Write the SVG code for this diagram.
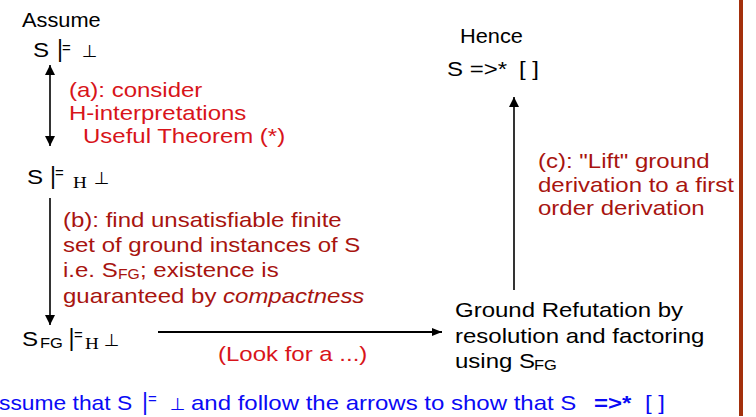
<svg xmlns="http://www.w3.org/2000/svg" width="756" height="417" viewBox="0 0 756 417">
<style>
text{font-family:"Liberation Sans",Arial,sans-serif;font-size:20px;fill:#000}
.big{font-size:21px}
.sym{font-family:"DejaVu Sans",sans-serif;font-size:17px}
.bar{font-size:23px}
.eq{font-size:15px}
.sub{font-size:15px}
.hs{font-family:"Liberation Serif","Times New Roman",serif;font-size:16px}
.ra text{fill:#D8141A}
.rb text{fill:#A8140F}
.bl text{fill:#0A0AF5}
.conn line{stroke:#000;fill:none}
</style>
<defs>
<marker id="ah" viewBox="0 0 10 10" refX="10" refY="5" markerWidth="10" markerHeight="10" markerUnits="userSpaceOnUse" orient="auto-start-reverse">
<path d="M0,0 L10,5 L0,10 z" fill="#000"/>
</marker>
<marker id="ahh" viewBox="0 0 10 8" refX="10" refY="4" markerWidth="10" markerHeight="8" markerUnits="userSpaceOnUse" orient="auto">
<path d="M0,0 L10,4 L0,8 z" fill="#000"/>
</marker>
</defs>
<rect x="739" y="0" width="4" height="416" fill="#A3300C"/>
<g id="assume">
<text font-size="22" transform="matrix(1.09,0,0,1,22,27)">Assume</text>
<text class="big" transform="matrix(1.15,0,0,1,33,57)">S</text>
<text class="bar" transform="matrix(1,0,0,1,57,57)">|</text>
<text class="eq" transform="matrix(1,0,0,1,62,53)">=</text>
<text class="sym" transform="matrix(1.05,0,0,1,82,57)">⊥</text>
</g>
<g id="sh">
<text class="big" transform="matrix(1.15,0,0,1,27,184)">S</text>
<text class="bar" transform="matrix(1,0,0,1,50,184)">|</text>
<text class="eq" transform="matrix(1,0,0,1,55,178)">=</text>
<text class="hs" transform="matrix(1.2,0,0,1,73,188)">H</text>
<text class="sym" transform="matrix(1.05,0,0,1,94,184)">⊥</text>
</g>
<g id="sfg">
<text class="big" transform="matrix(1.15,0,0,1,22,346)">S</text>
<text class="sub" transform="matrix(1.1,0,0,1,40,348)">FG</text>
<text class="bar" transform="matrix(1,0,0,1,68.5,346)">|</text>
<text class="eq" transform="matrix(1,0,0,1,74,340)">=</text>
<text class="hs" transform="matrix(1.2,0,0,1,85,349)">H</text>
<text class="sym" transform="matrix(1.05,0,0,1,104,346)">⊥</text>
</g>
<g id="hence">
<text font-size="22" transform="matrix(1.09,0,0,1,460,43)">Hence</text>
<text transform="matrix(1.2,0,0,1,447,76)">S =&gt;*</text>
<text transform="matrix(1.2,0,0,1,519,76)">[ ]</text>
</g>
<g id="ground">
<text transform="matrix(1.2,0,0,1,455,317)">Ground Refutation by</text>
<text transform="matrix(1.2,0,0,1,455,343)">resolution and factoring</text>
<text transform="matrix(1.2,0,0,1,455,368)">using S</text>
<text class="sub" transform="matrix(1.1,0,0,1,534,370)">FG</text>
</g>
<g id="label-a" class="ra">
<text transform="matrix(1.2,0,0,1,69,97)">(a): consider</text>
<text transform="matrix(1.2,0,0,1,69,120)">H-interpretations</text>
<text transform="matrix(1.2,0,0,1,83,143)">Useful Theorem (*)</text>
</g>
<g id="label-b" class="rb">
<text transform="matrix(1.2,0,0,1,63,227)">(b): find unsatisfiable finite</text>
<text transform="matrix(1.2,0,0,1,63,252)">set of ground instances of S</text>
<text transform="matrix(1.2,0,0,1,63,277)">i.e. S</text>
<text class="sub" transform="matrix(1.05,0,0,1,118,279)">FG</text>
<text transform="matrix(1.2,0,0,1,140,277)">; existence is</text>
<text transform="matrix(1.2,0,0,1,63,303)">guaranteed by <tspan font-style="italic">compactness</tspan></text>
</g>
<g id="label-c" class="rb">
<text transform="matrix(1.2,0,0,1,538,168)">(c): "Lift" ground</text>
<text transform="matrix(1.2,0,0,1,538,191.5)">derivation to a first</text>
<text transform="matrix(1.2,0,0,1,538,215)">order derivation</text>
</g>
<g id="label-look" class="ra">
<text transform="matrix(1.2,0,0,1,218,361)">(Look for a ...)</text>
</g>
<g id="note" class="bl">
<text transform="matrix(1.2,0,0,1,-1,410)" textLength="111" lengthAdjust="spacingAndGlyphs">ssume that S</text>
<text class="bar" transform="matrix(1,0,0,1,142,410)">|</text>
<text class="eq" transform="matrix(1,0,0,1,148,404)">=</text>
<text class="sym" transform="matrix(1.05,0,0,1,170,410)">⊥</text>
<text transform="matrix(1.2,0,0,1,191,410)">and follow the arrows to show that S</text>
<text font-weight="bold" transform="matrix(1.2,0,0,1,594,410)">=&gt;*</text>
<text transform="matrix(1.2,0,0,1,645,410)">[ ]</text>
</g>
<g id="connectors" class="conn">
<line x1="50" y1="65" x2="50" y2="146" stroke-width="1.6" marker-start="url(#ah)" marker-end="url(#ah)"/>
<line x1="50" y1="198" x2="50" y2="325" stroke-width="1.6" marker-end="url(#ah)"/>
<line x1="158" y1="332" x2="442" y2="332" stroke-width="2" marker-end="url(#ahh)"/>
<line x1="514" y1="290" x2="514" y2="97" stroke-width="1.6" marker-end="url(#ah)"/>
</g>
</svg>
